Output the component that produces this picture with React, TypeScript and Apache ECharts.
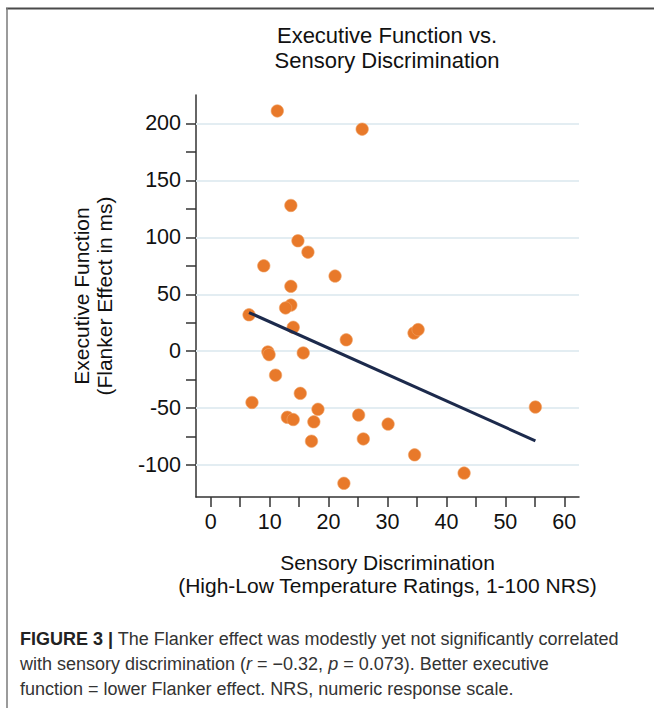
import React, { useEffect, useRef } from "react";
import * as echarts from "echarts";

const xs = [11.3, 25.7, 13.6, 14.8, 16.5, 9.0, 21.1, 13.6, 13.6, 12.7, 6.5, 14.0, 23.0, 9.7, 9.9, 15.7, 11.0, 7.0, 15.2, 18.2, 13.0, 14.0, 17.5, 25.1, 25.9, 30.1, 17.1, 22.6, 34.6, 34.5, 35.2, 55.1, 43.0];
const ys = [211, 195, 128, 97, 87, 75, 66, 57, 40.5, 38, 32, 21, 10, -0.6, -3, -1.5, -21, -45, -37, -51, -58, -60, -62, -56, -77, -64, -79, -116, -91, 16, 19, -49, -107];
const fitX = [6.5, 55.1];
const fitY = [34, -78.7];
const xTicks = [0, 5, 10, 15, 20, 25, 30, 35, 40, 45, 50, 55, 60];
const xLabels = [0, 10, 20, 30, 40, 50, 60];
const yTicks = [-100, -75, -50, -25, 0, 25, 50, 75, 100, 125, 150, 175, 200];
const yLabels = [-100, -50, 0, 50, 100, 150, 200];

const FONT = "'Liberation Sans', Arial, Helvetica, sans-serif";

export default function App() {
  const ref = useRef<HTMLDivElement>(null);
  useEffect(() => {
    const chart = echarts.init(ref.current!, null, { renderer: "svg" });
    const points = xs.map((x, i) => [x, ys[i]]);
    const fit = fitX.map((x, i) => [x, fitY[i]]);
    chart.setOption({
      animation: false,
      backgroundColor: "#ffffff",
      textStyle: { fontFamily: FONT },
      grid: { left: 196, right: 75, top: 95, bottom: 211, containLabel: false },
      xAxis: {
        type: "value",
        min: -2.5,
        max: 62.5,
        name: "Sensory Discrimination\n(High-Low Temperature Ratings, 1-100 NRS)",
        nameLocation: "middle",
        nameGap: 54,
        nameTextStyle: { fontSize: 21, color: "#111", lineHeight: 23, fontFamily: FONT },
        axisLine: { show: true, onZero: false, lineStyle: { color: "#333", width: 1.5 } },
        axisTick: { show: true, length: 10, inside: false, customValues: xTicks, lineStyle: { color: "#333", width: 1.5 } },
        axisLabel: { customValues: xLabels, margin: 14, fontSize: 21.5, color: "#111", fontFamily: FONT },
        splitLine: { show: false },
      },
      yAxis: {
        type: "value",
        min: -128,
        max: 225,
        name: "Executive Function\n(Flanker Effect in ms)",
        nameLocation: "middle",
        nameGap: 80,
        nameTextStyle: { fontSize: 21, color: "#111", lineHeight: 23, fontFamily: FONT },
        axisLine: { show: true, onZero: false, lineStyle: { color: "#333", width: 1.5 } },
        axisTick: { show: true, length: 10, inside: false, customValues: yTicks, lineStyle: { color: "#333", width: 1.5 } },
        axisLabel: { customValues: yLabels, margin: 15, fontSize: 21.5, color: "#111", fontFamily: FONT },
        splitLine: { show: false },
      },
      series: [
        {
          type: "scatter",
          data: points,
          symbol: "circle",
          symbolSize: 12.5,
          itemStyle: { color: "#e8792a", opacity: 1, borderColor: "#f0a56a", borderWidth: 0.6 },
          z: 3,
          markLine: {
            silent: true,
            symbol: "none",
            label: { show: false },
            lineStyle: { color: "#e3edf2", width: 2, type: "solid" },
            data: yLabels.map((v) => ({ yAxis: v })),
            z: 1,
          },
        },
        {
          type: "line",
          data: fit,
          symbol: "none",
          lineStyle: { color: "#1c2a4c", width: 3 },
          z: 4,
        },
      ],
      graphic: [
        { type: "line", shape: { x1: 6, y1: 8.5, x2: 654, y2: 8.5 }, style: { stroke: "#4a4a4a", lineWidth: 2 } },
        { type: "line", shape: { x1: 7, y1: 8, x2: 7, y2: 708 }, style: { stroke: "#7a7a7a", lineWidth: 1.5 } },
        {
          type: "text",
          x: 387,
          y: 22.5,
          style: {
            text: "Executive Function vs.\nSensory Discrimination",
            font: `22px ${FONT}`,
            fill: "#111",
            align: "center",
            verticalAlign: "top",
            lineHeight: 25,
          },
        },
        {
          type: "text",
          x: 20,
          y: 626,
          style: {
            text:
              "{b|FIGURE 3 |} The Flanker effect was modestly yet not significantly correlated\nwith sensory discrimination ({i|r} = \u22120.32, {i|p} = 0.073). Better executive\nfunction = lower Flanker effect. NRS, numeric response scale.",
            font: `18px ${FONT}`,
            fill: "#333",
            verticalAlign: "top",
            lineHeight: 25,
            rich: {
              b: { fontWeight: "bold", fontSize: 18, fontFamily: FONT, fill: "#222", lineHeight: 25 },
              i: { fontStyle: "italic", fontSize: 18, fontFamily: FONT, fill: "#333", lineHeight: 25 },
            },
          },
        },
      ],
    });
    return () => chart.dispose();
  }, []);
  return <div ref={ref} style={{ position: "fixed", left: 0, top: 0, width: 654, height: 708 }} />;
}
